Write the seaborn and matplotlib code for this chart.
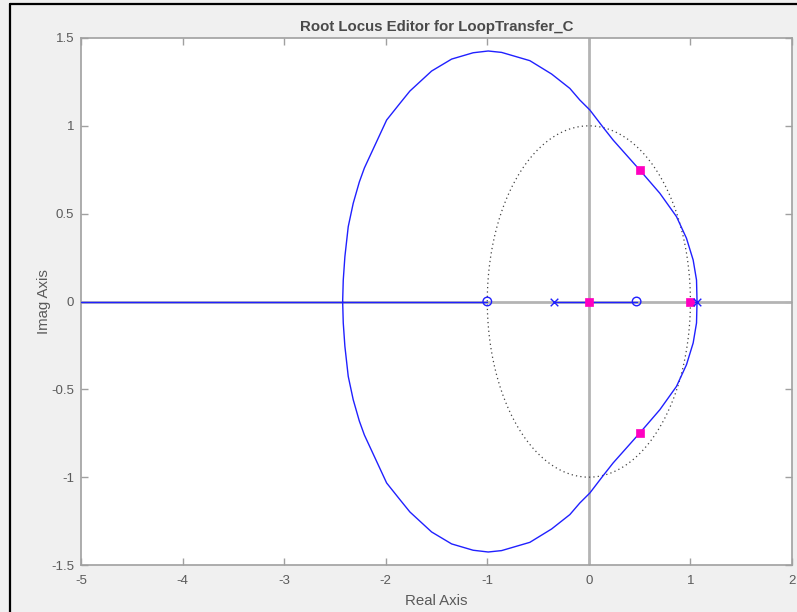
import matplotlib
matplotlib.use("Agg")
import matplotlib.pyplot as plt
from matplotlib.lines import Line2D
import numpy as np
import pandas as pd
import seaborn as sns

# Upper branch of the complex-plane root locus (lower branch is its conjugate)
locus_re = [1.065, 1.060, 1.027, 0.961, 0.863, 0.699, 0.502, 0.239, 0.141, 0.010,
            -0.089, -0.187, -0.367, -0.581, -0.859, -0.991, -1.139, -1.351, -1.548,
            -1.762, -1.860, -1.991, -2.210, -2.260, -2.320, -2.369, -2.402, -2.418, -2.424]
locus_im = [0.000, 0.122, 0.236, 0.360, 0.483, 0.616, 0.748, 0.919, 0.991, 1.090,
            1.147, 1.213, 1.295, 1.371, 1.418, 1.426, 1.416, 1.380, 1.312,
            1.198, 1.128, 1.033, 0.760, 0.680, 0.559, 0.426, 0.255, 0.122, 0.000]

# Locus segments lying on the real axis
real_seg_start = [-5.0, -0.345, 0.995]
real_seg_end = [-1.0, 0.47, 1.065]

# Open-loop poles and zeros
poles_re = [-0.345, 1.06]
zeros_re = [-1.0, 0.47]

# Closed-loop poles at the current gain
cl_re = [0.0, 0.995, 0.5, 0.5]
cl_im = [0.0, 0.0, 0.748, -0.748]

x_ticks = [-5, -4, -3, -2, -1, 0, 1, 2]
y_ticks = [-1.5, -1, -0.5, 0, 0.5, 1, 1.5]
y_tick_labels = ["-1.5", "-1", "-0.5", "0", "0.5", "1", "1.5"]

sns.set_theme(style="white")
plt.rcParams["font.family"] = ["Liberation Sans", "DejaVu Sans"]

BG = "#f0f0f0"
GRAY = "#a0a0a0"
TXT = "#5a5a5a"
BLUE = "#2020ff"
MAG = "#ff00c0"

fig = plt.figure(figsize=(7.97, 6.12), dpi=100, facecolor=BG)
ax = fig.add_axes([81 / 797, 47 / 612, 711 / 797, 527 / 612])
ax.set_facecolor("white")

# Reference axes through the origin
ax.axhline(0, color="#b4b4b4", lw=2, zorder=1)
ax.axvline(0, color="#b4b4b4", lw=2, zorder=1)

# Unit circle
theta = np.linspace(0, 2 * np.pi, 400)
circle = pd.DataFrame({"re": np.cos(theta), "im": np.sin(theta)})
sns.lineplot(data=circle, x="re", y="im", sort=False, estimator=None, ax=ax,
             color="#444444", lw=0.9, linestyle=(0, (1, 2.5)), zorder=2)

# Complex branches
upper = pd.DataFrame({"re": locus_re, "im": locus_im})
lower = pd.DataFrame({"re": locus_re, "im": [-v for v in locus_im]})
for part in (upper, lower):
    sns.lineplot(data=part, x="re", y="im", sort=False, estimator=None, ax=ax,
                 color=BLUE, lw=1.0, zorder=3)

# Real-axis branches
for a, b in zip(real_seg_start, real_seg_end):
    seg = pd.DataFrame({"re": [a, b], "im": [0.0, 0.0]})
    sns.lineplot(data=seg, x="re", y="im", sort=False, estimator=None, ax=ax,
                 color=BLUE, lw=1.0, zorder=3)

# Closed-loop poles
sns.scatterplot(x=cl_re, y=cl_im, ax=ax, marker="s", s=30, color=MAG,
                edgecolor=MAG, linewidth=0.5, zorder=5)
# Open-loop zeros and poles
sns.scatterplot(x=zeros_re, y=[0] * len(zeros_re), ax=ax, marker="o", s=38,
                facecolor="none", edgecolor=BLUE, linewidth=1.0, zorder=6)
sns.scatterplot(x=poles_re, y=[0] * len(poles_re), ax=ax, marker="x", s=30,
                color=BLUE, linewidth=1.0, zorder=6)

ax.set_xlim(-5, 2)
ax.set_ylim(-1.5, 1.5)
ax.set_xticks(x_ticks)
ax.set_xticklabels([str(t) for t in x_ticks])
ax.set_yticks(y_ticks)
ax.set_yticklabels(y_tick_labels)
ax.tick_params(direction="in", length=5, width=1, color=GRAY, labelcolor=TXT,
               labelsize=9.5, top=True, right=True, bottom=True, left=True)
ax.tick_params(axis="x", pad=7)
ax.tick_params(axis="y", pad=5)
for s in ax.spines.values():
    s.set_color(GRAY)
    s.set_linewidth(1.2)

ax.set_xlabel("Real Axis", color=TXT, fontsize=10.8, labelpad=5)
ax.set_ylabel("Imag Axis", color=TXT, fontsize=10.8, labelpad=0)
ax.set_title("Root Locus Editor for LoopTransfer_C", color="#4a4a4a",
             fontsize=10.8, fontweight="bold", pad=5)

# Window frame edges
fig.add_artist(Line2D([10 / 797, 1], [1 - 4 / 612, 1 - 4 / 612],
                      transform=fig.transFigure, color="black", lw=1.6))
fig.add_artist(Line2D([10 / 797, 10 / 797], [0, 1 - 4 / 612],
                      transform=fig.transFigure, color="black", lw=1.6))

fig.savefig("out.png", dpi=100, facecolor=BG)
